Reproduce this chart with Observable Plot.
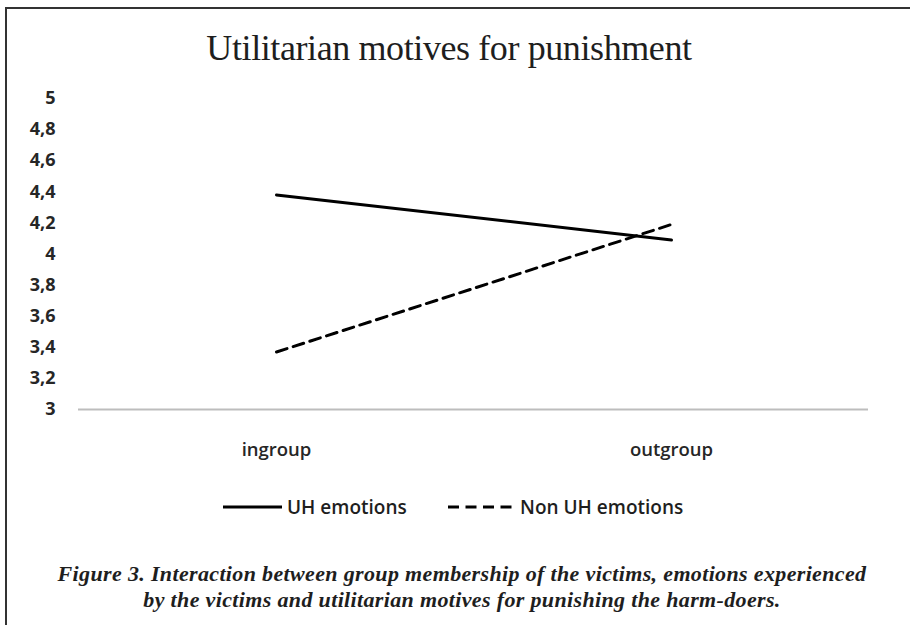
<!DOCTYPE html>
<html>
<head>
<meta charset="utf-8">
<script src="https://cdn.jsdelivr.net/npm/d3@7"></script>
<script src="https://cdn.jsdelivr.net/npm/@observablehq/plot@0.6"></script>
<style>
  html, body { margin: 0; padding: 0; background: #fff; width: 910px; height: 625px; overflow: hidden; }
  #frame { position: absolute; left: 5px; top: 7px; right: 0; bottom: -5px; border-top: 2px solid #333; border-left: 2px solid #333; }
  #title { position: absolute; left: -6px; width: 910px; top: 27px; text-align: center; font-family: "Liberation Serif", serif; font-size: 36px; letter-spacing: -0.4px; color: #1e1e1e; }
  #chart { position: absolute; left: 0; top: 80px; }
  #legend { position: absolute; left: 0; top: 495px; width: 910px; font-family: "Open Sans", sans-serif; font-weight: 600; font-size: 19px; color: #1e1e1e; }
  .item { position: absolute; top: 0; display: flex; align-items: center; height: 24px; }
  #caption { position: absolute; left: 14px; width: 896px; top: 561px; text-align: center; font-family: "Liberation Serif", serif; font-weight: bold; font-style: italic; font-size: 22px; letter-spacing: 0.35px; line-height: 26px; color: #1e1e1e; }
</style>
</head>
<body>
<div id="frame"></div>
<div id="title"></div>
<div id="chart"></div>
<div id="legend"></div>
<div id="caption"></div>
<script>
// ---- data ----
const titleText = "Utilitarian motives for punishment";
const groups = ["ingroup", "outgroup"];
const seriesNames = ["UH emotions", "Non UH emotions"];
const uhValues = [4.38, 4.09];
const nonUhValues = [3.37, 4.19];
const yTicks = [3, 3.2, 3.4, 3.6, 3.8, 4, 4.2, 4.4, 4.6, 4.8, 5];
const yTickLabels = ["3", "3,2", "3,4", "3,6", "3,8", "4", "4,2", "4,4", "4,6", "4,8", "5"];
const captionLines = [
  "Figure 3. Interaction between group membership of the victims, emotions experienced",
  "by the victims and utilitarian motives for punishing the harm-doers."
];

const uhData = groups.map((g, i) => ({group: g, value: uhValues[i], series: seriesNames[0]}));
const nonUhData = groups.map((g, i) => ({group: g, value: nonUhValues[i], series: seriesNames[1]}));

document.getElementById("title").textContent = titleText;

const chart = Plot.plot({
  width: 910,
  height: 400,
  marginTop: 18,
  marginBottom: 71,
  marginLeft: 78,
  marginRight: 42,
  style: {fontFamily: "'Open Sans', sans-serif", color: "#262626", background: "transparent"},
  x: {type: "point", domain: groups, padding: 0.5},
  y: {domain: [3, 5]},
  marks: [
    Plot.axisY({ticks: yTicks, tickSize: 0, tickPadding: 23, fontSize: 18, fontWeight: "bold",
      tickFormat: d => yTickLabels[yTicks.indexOf(d)], label: null}),
    Plot.axisX({tickSize: 0, tickPadding: 33, fontSize: 18.5, fontWeight: 600, label: null}),
    Plot.ruleY([3], {stroke: "#bdbdbd", strokeWidth: 2}),
    Plot.line(uhData, {x: "group", y: "value", stroke: "#000", strokeWidth: 3}),
    Plot.line(nonUhData, {x: "group", y: "value", stroke: "#000", strokeWidth: 3, strokeDasharray: "11,6.5"})
  ]
});
document.getElementById("chart").appendChild(chart);

// legend
const legend = document.getElementById("legend");
const items = [
  {name: seriesNames[0], dash: null, left: 223, w: 59, gap: 5},
  {name: seriesNames[1], dash: "11,6.5", left: 448, w: 64, gap: 8}
];
for (const it of items) {
  const div = document.createElement("div");
  div.className = "item";
  div.style.left = it.left + "px";
  const svg = d3.create("svg").attr("width", it.w).attr("height", 6).style("margin-right", it.gap + "px");
  svg.append("line").attr("x1", 0).attr("x2", it.w).attr("y1", 3).attr("y2", 3)
    .attr("stroke", "#000").attr("stroke-width", 3)
    .attr("stroke-dasharray", it.dash);
  div.appendChild(svg.node());
  const span = document.createElement("span");
  span.textContent = it.name;
  div.appendChild(span);
  legend.appendChild(div);
}

const cap = document.getElementById("caption");
captionLines.forEach(t => { const d = document.createElement("div"); d.textContent = t; cap.appendChild(d); });
</script>
</body>
</html>
